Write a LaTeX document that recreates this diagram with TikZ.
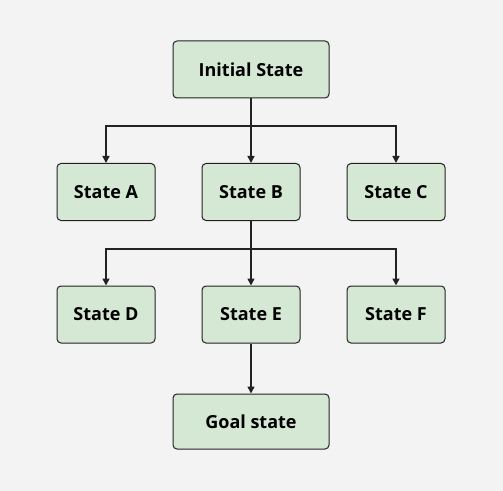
\documentclass[tikz,border=0pt]{standalone}
\usepackage{fontspec}
\setmainfont{Open Sans}
\usetikzlibrary{arrows.meta}
\definecolor{bg}{HTML}{F3F3F3}
\definecolor{boxfill}{HTML}{D5E8D4}
\definecolor{boxline}{HTML}{222222}
\tikzset{
  statebox/.style={draw=boxline, fill=boxfill, line width=1bp, rounded corners=4bp,
    minimum height=57bp, inner sep=0pt, font=\fontsize{18bp}{21bp}\selectfont\bfseries, text=black},
  wide/.style={minimum width=156bp},
  narrow/.style={minimum width=98bp},
  conn/.style={draw=boxline, line width=1.5bp, -{Triangle[length=7bp,width=7bp]}},
  bus/.style={draw=boxline, line width=1.5bp}
}
\begin{document}
\begin{tikzpicture}[x=1bp,y=-1bp]
\fill[bg] (0,0) rectangle (503,491);
\useasboundingbox (0,0) rectangle (503,491);
\node[statebox,wide] (init) at (251,69.5) {Initial State};
\node[statebox,narrow] (a) at (106,192) {State A};
\node[statebox,narrow] (b) at (251,192) {State B};
\node[statebox,narrow] (c) at (396,192) {State C};
\node[statebox,narrow] (d) at (106,314.5) {State D};
\node[statebox,narrow] (e) at (251,314.5) {State E};
\node[statebox,narrow] (f) at (396,314.5) {State F};
\node[statebox,wide,minimum height=55bp] (g) at (251,421.5) {Goal state};
\coordinate (j1) at (251,126);
\coordinate (j2) at (251,249);
\draw[bus] (init.south) -- (j1);
\draw[conn] (j1) -| (a.north);
\draw[conn] (j1) -- (b.north);
\draw[conn] (j1) -| (c.north);
\draw[bus] (b.south) -- (j2);
\draw[conn] (j2) -| (d.north);
\draw[conn] (j2) -- (e.north);
\draw[conn] (j2) -| (f.north);
\draw[conn] (e.south) -- (g.north);
\end{tikzpicture}
\end{document}
